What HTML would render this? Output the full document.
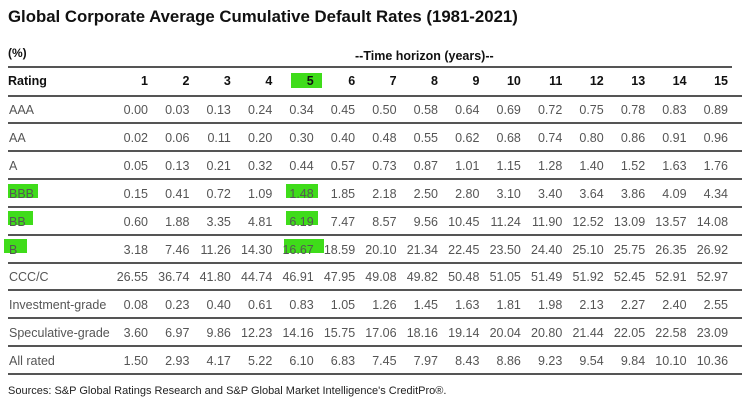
<!DOCTYPE html>
<html><head><style>
body{margin:0;width:752px;height:404px;background:#fff;font-family:"Liberation Sans",sans-serif;position:relative;overflow:hidden}
.t{position:absolute;white-space:nowrap}
.h{position:absolute;left:8px;width:734px;height:2px;background:#555}
.g{position:absolute;background:#3fdc1a}
.n{position:absolute;text-align:right;width:40px;font-size:12.5px;color:#555}
.b{font-weight:bold;color:#111}
</style></head><body>
<div class="t" style="left:8px;top:7px;font-size:16.8px;font-weight:bold;color:#111">Global Corporate Average Cumulative Default Rates (1981-2021)</div>
<div class="t" style="left:8px;top:46px;font-size:12px;font-weight:bold;color:#111">(%)</div>
<div class="t" style="left:355px;top:49px;font-size:12.5px;font-weight:bold;color:#111">--Time horizon (years)--</div>
<div class="h" style="top:66px;left:8px;width:724px"></div>
<div class="g" style="left:291px;top:73px;width:31px;height:15px"></div>
<div class="g" style="left:8px;top:184px;width:30px;height:14px"></div>
<div class="g" style="left:8px;top:211px;width:25px;height:14px"></div>
<div class="g" style="left:4px;top:239px;width:23px;height:14px"></div>
<div class="g" style="left:286px;top:184px;width:32px;height:14px"></div>
<div class="g" style="left:286px;top:211px;width:32px;height:14px"></div>
<div class="g" style="left:284px;top:239px;width:40px;height:14px"></div>
<div id="c"></div>
<div class="t" style="left:8px;top:385px;font-size:11px;color:#222">Sources: S&amp;P Global Ratings Research and S&amp;P Global Market Intelligence's CreditPro®.</div>
<script>
var rows=[["AAA","0.00 0.03 0.13 0.24 0.34 0.45 0.50 0.58 0.64 0.69 0.72 0.75 0.78 0.83 0.89"],
["AA","0.02 0.06 0.11 0.20 0.30 0.40 0.48 0.55 0.62 0.68 0.74 0.80 0.86 0.91 0.96"],
["A","0.05 0.13 0.21 0.32 0.44 0.57 0.73 0.87 1.01 1.15 1.28 1.40 1.52 1.63 1.76"],
["BBB","0.15 0.41 0.72 1.09 1.48 1.85 2.18 2.50 2.80 3.10 3.40 3.64 3.86 4.09 4.34"],
["BB","0.60 1.88 3.35 4.81 6.19 7.47 8.57 9.56 10.45 11.24 11.90 12.52 13.09 13.57 14.08"],
["B","3.18 7.46 11.26 14.30 16.67 18.59 20.10 21.34 22.45 23.50 24.40 25.10 25.75 26.35 26.92"],
["CCC/C","26.55 36.74 41.80 44.74 46.91 47.95 49.08 49.82 50.48 51.05 51.49 51.92 52.45 52.91 52.97"],
["Investment-grade","0.08 0.23 0.40 0.61 0.83 1.05 1.26 1.45 1.63 1.81 1.98 2.13 2.27 2.40 2.55"],
["Speculative-grade","3.60 6.97 9.86 12.23 14.16 15.75 17.06 18.16 19.14 20.04 20.80 21.44 22.05 22.58 23.09"],
["All rated","1.50 2.93 4.17 5.22 6.10 6.83 7.45 7.97 8.43 8.86 9.23 9.54 9.84 10.10 10.36"]];
var h="";
function R(i){return 150+i*41.43}
h+='<div class="t b" style="left:8px;top:74px;font-size:12.5px">Rating</div>';
for(var j=0;j<15;j++)h+='<div class="n b" style="left:'+(R(j)-40-2)+'px;top:74px">'+(j+1)+'</div>';
h+='<div class="h" style="top:95px"></div>';
rows.forEach(function(r,i){
 var y=103+i*27.9;
 h+='<div class="t" style="left:9px;top:'+y+'px;font-size:12.5px;color:#555">'+r[0]+'</div>';
 r[1].split(" ").forEach(function(v,j){h+='<div class="n" style="left:'+(R(j)-40-2)+'px;top:'+y+'px">'+v+'</div>';});
 h+='<div class="h" style="top:'+(122+i*27.9)+'px"></div>';
});
document.getElementById("c").innerHTML=h;
</script>
</body></html>
